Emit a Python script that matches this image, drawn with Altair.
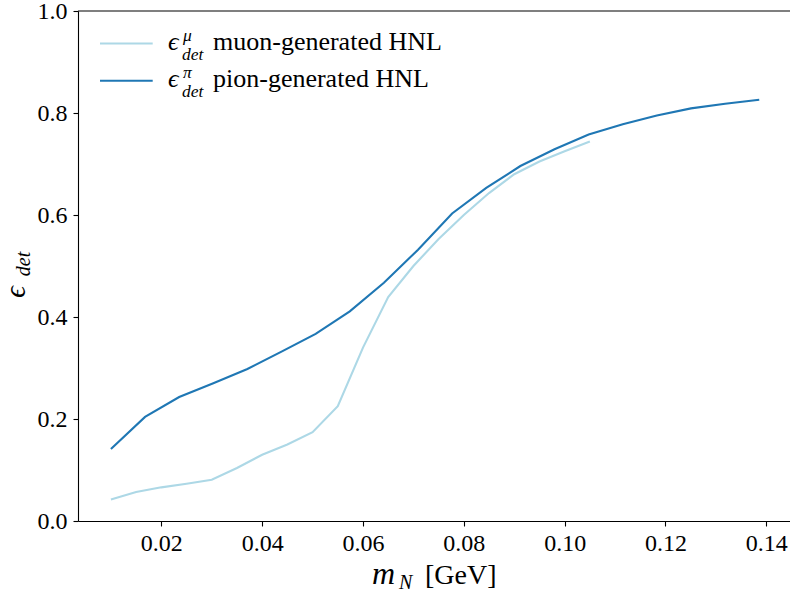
import altair as alt
import pandas as pd

# ---- data ----
muon_mass = [0.010, 0.015, 0.020, 0.025, 0.030, 0.035, 0.040, 0.045, 0.050, 0.055,
             0.060, 0.065, 0.070, 0.075, 0.080, 0.085, 0.090, 0.095, 0.100, 0.105]
muon_eff = [0.042, 0.057, 0.066, 0.073, 0.081, 0.104, 0.130, 0.150, 0.174, 0.225,
            0.340, 0.439, 0.500, 0.553, 0.600, 0.643, 0.680, 0.705, 0.725, 0.744]

pion_mass = [0.01000, 0.01677, 0.02354, 0.03031, 0.03707, 0.04384, 0.05061, 0.05738,
             0.06415, 0.07092, 0.07768, 0.08445, 0.09122, 0.09799, 0.10476, 0.11153,
             0.11829, 0.12506, 0.13183, 0.13860]
pion_eff = [0.141, 0.204, 0.243, 0.270, 0.298, 0.332, 0.367, 0.411,
            0.467, 0.532, 0.603, 0.653, 0.696, 0.729, 0.758, 0.778,
            0.795, 0.809, 0.818, 0.826]

series_names = ["muon-generated HNL", "pion-generated HNL"]
series_sup = ["μ", "π"]
series_colors = ["#add8e6", "#1f77b4"]

x_ticks = [0.02, 0.04, 0.06, 0.08, 0.10, 0.12, 0.14]
y_ticks = [0.0, 0.2, 0.4, 0.6, 0.8, 1.0]
x_domain = [0.00347, 0.1447]
y_domain = [0.0, 1.0]

FONT = "Liberation Serif"
W, H = 712, 510

df = pd.concat([
    pd.DataFrame({"mass": muon_mass, "eff": muon_eff, "series": series_names[0]}),
    pd.DataFrame({"mass": pion_mass, "eff": pion_eff, "series": series_names[1]}),
])

color_scale = alt.Scale(domain=series_names, range=series_colors)

lines = alt.Chart(df).mark_line(strokeWidth=2.1).encode(
    x=alt.X("mass:Q", scale=alt.Scale(domain=x_domain, nice=False, zero=False),
            axis=alt.Axis(values=x_ticks, format=".2f", title=None)),
    y=alt.Y("eff:Q", scale=alt.Scale(domain=y_domain, nice=False),
            axis=alt.Axis(values=y_ticks, format=".1f", title=None)),
    color=alt.Color("series:N", scale=color_scale, legend=None),
)

# top spine
top = alt.Chart(pd.DataFrame({"a": [0]})).mark_rule(color="black", strokeWidth=1.1).encode(
    x=alt.value(0), x2=alt.value(W), y=alt.value(0)
)

# ---- legend, built from the series lists ----
leg_df = pd.DataFrame({"name": series_names, "sup": series_sup, "idx": [0, 1]})
leg = alt.Chart(leg_df).transform_calculate(
    base="39 + 37.3 * datum.idx",
    ly="39 + 37.3 * datum.idx - 6.5",
    sy="39 + 37.3 * datum.idx - 9.5",
    dy_="39 + 37.3 * datum.idx + 9.5",
    eps="'ϵ'",
    det="'det'",
)
leg_lines = leg.mark_rule(strokeWidth=2.1).encode(
    x=alt.value(22), x2=alt.value(74.7),
    y=alt.Y("ly:Q", scale=None, axis=None),
    color=alt.Color("name:N", scale=color_scale, legend=None),
)
leg_eps = leg.mark_text(font=FONT, fontSize=26, fontStyle="italic", align="left",
                        baseline="alphabetic", color="black").encode(
    x=alt.value(90), y=alt.Y("base:Q", scale=None, axis=None), text="eps:N")
leg_sup = leg.mark_text(font=FONT, fontSize=17.5, fontStyle="italic", align="left",
                        baseline="alphabetic", color="black").encode(
    x=alt.value(105), y=alt.Y("sy:Q", scale=None, axis=None), text="sup:N")
leg_det = leg.mark_text(font=FONT, fontSize=17.5, fontStyle="italic", align="left",
                        baseline="alphabetic", color="black").encode(
    x=alt.value(104), y=alt.Y("dy_:Q", scale=None, axis=None), text="det:N")
leg_name = leg.mark_text(font=FONT, fontSize=26, align="left",
                         baseline="alphabetic", color="black").encode(
    x=alt.value(135), y=alt.Y("base:Q", scale=None, axis=None), text="name:N")

# ---- axis titles ----
one = pd.DataFrame({"a": [0]})
xt_m = alt.Chart(one).mark_text(text="m", font=FONT, fontSize=32, fontStyle="italic",
                                align="left", baseline="alphabetic", color="black").encode(
    x=alt.value(294), y=alt.value(573))
xt_n = alt.Chart(one).mark_text(text="N", font=FONT, fontSize=20, fontStyle="italic",
                                align="left", baseline="alphabetic", color="black").encode(
    x=alt.value(321), y=alt.value(578))
xt_u = alt.Chart(one).mark_text(text="[GeV]", font=FONT, fontSize=28,
                                align="left", baseline="alphabetic", color="black").encode(
    x=alt.value(347), y=alt.value(573))
yt_e = alt.Chart(one).mark_text(text="ϵ", font=FONT, fontSize=29, fontStyle="italic",
                                align="center", baseline="middle", angle=270,
                                color="black").encode(
    x=alt.value(-62), y=alt.value(281))
yt_d = alt.Chart(one).mark_text(text="det", font=FONT, fontSize=20, fontStyle="italic",
                                align="center", baseline="middle", angle=270,
                                color="black").encode(
    x=alt.value(-54), y=alt.value(253))

chart = alt.layer(
    lines, top, leg_lines, leg_eps, leg_sup, leg_det, leg_name,
    xt_m, xt_n, xt_u, yt_e, yt_d
).properties(
    width=W, height=H,
    autosize=alt.AutoSizeParams(type="none"),
    padding={"left": 78, "top": 11, "right": 0, "bottom": 76},
    background="white",
).configure_view(stroke=None).configure_axis(
    labelFont=FONT, labelFontSize=24, labelColor="black",
    tickColor="black", tickSize=5, tickWidth=1.1,
    domainColor="black", domainWidth=1.1, grid=False,
).configure_axisX(labelPadding=5).configure_axisY(labelPadding=6)

chart.save("out.html", embed_options={"renderer": "svg", "actions": False})
